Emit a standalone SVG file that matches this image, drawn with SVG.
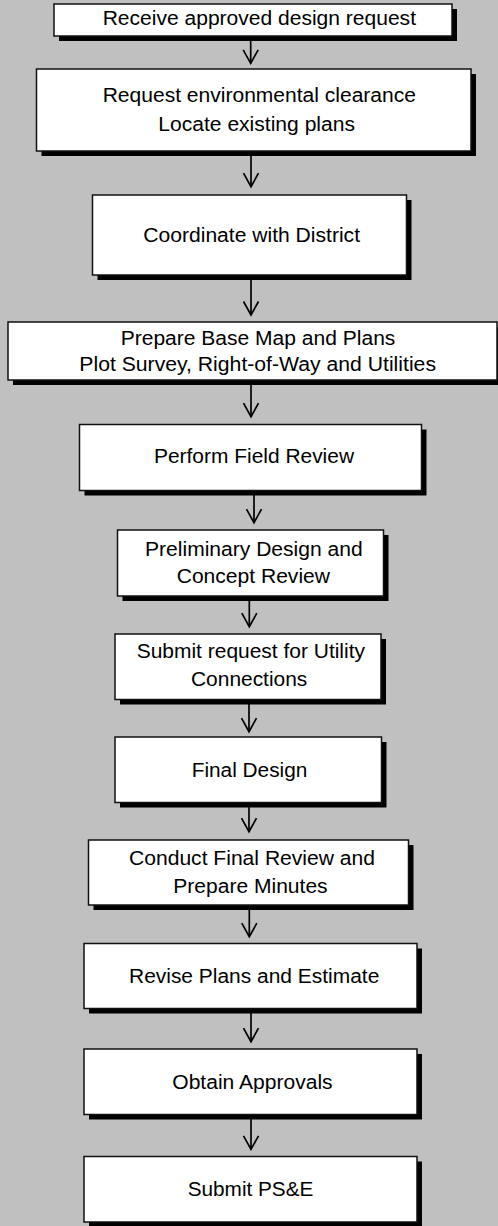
<svg xmlns="http://www.w3.org/2000/svg" width="498" height="1226" viewBox="0 0 498 1226">
<style>
.bg{fill:#c0c0c0}
.sh{fill:#000}
.bx{fill:#fff;stroke:#111;stroke-width:1.5}
.t{font-family:"Liberation Sans",Arial,sans-serif;font-size:19.5px;fill:#000}
.c{stroke:#000;stroke-width:1.7;fill:none}
</style>
<defs>
<marker id="ah" markerUnits="userSpaceOnUse" viewBox="-15 -9 17 18" refX="0" refY="0" markerWidth="17" markerHeight="18" orient="auto">
<path d="M-13.5,-7.5 L0,0 L-13.5,7.5" fill="none" stroke="#000" stroke-width="1.7"/>
</marker>
</defs>
<rect class="bg" x="0" y="0" width="498" height="1226"/>
<g id="connectors">
<line class="c" x1="250.7" y1="36" x2="250.7" y2="63.3" marker-end="url(#ah)"/>
<line class="c" x1="251" y1="151.7" x2="251" y2="186.7" marker-end="url(#ah)"/>
<line class="c" x1="251" y1="275.7" x2="251" y2="315" marker-end="url(#ah)"/>
<line class="c" x1="251" y1="381" x2="251" y2="416.7" marker-end="url(#ah)"/>
<line class="c" x1="254" y1="490.7" x2="254" y2="522.7" marker-end="url(#ah)"/>
<line class="c" x1="249.3" y1="596" x2="249.3" y2="626.7" marker-end="url(#ah)"/>
<line class="c" x1="249" y1="700" x2="249" y2="731.7" marker-end="url(#ah)"/>
<line class="c" x1="249" y1="803" x2="249" y2="831.7" marker-end="url(#ah)"/>
<line class="c" x1="249.3" y1="906" x2="249.3" y2="936.7" marker-end="url(#ah)"/>
<line class="c" x1="251" y1="1009" x2="251" y2="1041.7" marker-end="url(#ah)"/>
<line class="c" x1="251" y1="1115" x2="251" y2="1149.3" marker-end="url(#ah)"/>
</g>
<g id="n1">
<rect class="sh" x="59" y="9" width="398" height="32"/>
<rect class="bx" x="54" y="4" width="398" height="32"/>
<text class="t" x="102.7" y="25" textLength="313.3" lengthAdjust="spacingAndGlyphs">Receive approved design request</text>
</g>
<g id="n2">
<rect class="sh" x="41.5" y="74" width="434.5" height="82"/>
<rect class="bx" x="36.5" y="69" width="434.5" height="82"/>
<text class="t" x="102.7" y="101.7" textLength="313.3" lengthAdjust="spacingAndGlyphs">Request environmental clearance</text>
<text class="t" x="158.3" y="130.7" textLength="196.7" lengthAdjust="spacingAndGlyphs">Locate existing plans</text>
</g>
<g id="n3">
<rect class="sh" x="97.5" y="200" width="314" height="80"/>
<rect class="bx" x="92.5" y="195" width="314" height="80"/>
<text class="t" x="143.3" y="241.7" textLength="216.7" lengthAdjust="spacingAndGlyphs">Coordinate with District</text>
</g>
<g id="n4">
<rect class="sh" x="13" y="327" width="489" height="58"/>
<rect class="bx" x="8" y="322" width="489" height="58"/>
<text class="t" x="120.7" y="345" textLength="274.7" lengthAdjust="spacingAndGlyphs">Prepare Base Map and Plans</text>
<text class="t" x="79.3" y="371" textLength="356.7" lengthAdjust="spacingAndGlyphs">Plot Survey, Right-of-Way and Utilities</text>
</g>
<g id="n5">
<rect class="sh" x="84.5" y="429.5" width="342" height="66"/>
<rect class="bx" x="79.5" y="424.5" width="342" height="66"/>
<text class="t" x="154" y="463.3" textLength="200" lengthAdjust="spacingAndGlyphs">Perform Field Review</text>
</g>
<g id="n6">
<rect class="sh" x="122.5" y="535" width="266" height="66"/>
<rect class="bx" x="117.5" y="530" width="266" height="66"/>
<text class="t" x="145" y="556" textLength="217.7" lengthAdjust="spacingAndGlyphs">Preliminary Design and</text>
<text class="t" x="176.7" y="582.7" textLength="153.3" lengthAdjust="spacingAndGlyphs">Concept Review</text>
</g>
<g id="n7">
<rect class="sh" x="120" y="639" width="266" height="65.5"/>
<rect class="bx" x="115" y="634" width="266" height="65.5"/>
<text class="t" x="136.7" y="658.3" textLength="228.3" lengthAdjust="spacingAndGlyphs">Submit request for Utility</text>
<text class="t" x="191" y="686" textLength="116.3" lengthAdjust="spacingAndGlyphs">Connections</text>
</g>
<g id="n8">
<rect class="sh" x="120" y="742" width="266.5" height="65.5"/>
<rect class="bx" x="115" y="737" width="266.5" height="65.5"/>
<text class="t" x="191.7" y="776.7" textLength="115.7" lengthAdjust="spacingAndGlyphs">Final Design</text>
</g>
<g id="n9">
<rect class="sh" x="93.5" y="845" width="320" height="65"/>
<rect class="bx" x="88.5" y="840" width="320" height="65"/>
<text class="t" x="129" y="865" textLength="246" lengthAdjust="spacingAndGlyphs">Conduct Final Review and</text>
<text class="t" x="173.3" y="892.7" textLength="154.3" lengthAdjust="spacingAndGlyphs">Prepare Minutes</text>
</g>
<g id="n10">
<rect class="sh" x="89" y="948.5" width="333" height="65"/>
<rect class="bx" x="84" y="943.5" width="333" height="65"/>
<text class="t" x="129" y="982.7" textLength="250.3" lengthAdjust="spacingAndGlyphs">Revise Plans and Estimate</text>
</g>
<g id="n11">
<rect class="sh" x="89" y="1054" width="333" height="65.5"/>
<rect class="bx" x="84" y="1049" width="333" height="65.5"/>
<text class="t" x="172.3" y="1089.3" textLength="160.3" lengthAdjust="spacingAndGlyphs">Obtain Approvals</text>
</g>
<g id="n12">
<rect class="sh" x="89" y="1161.5" width="333" height="65.5"/>
<rect class="bx" x="84" y="1156.5" width="333" height="65.5"/>
<text class="t" x="187.7" y="1196" textLength="125.7" lengthAdjust="spacingAndGlyphs">Submit PS&amp;E</text>
</g>
</svg>
